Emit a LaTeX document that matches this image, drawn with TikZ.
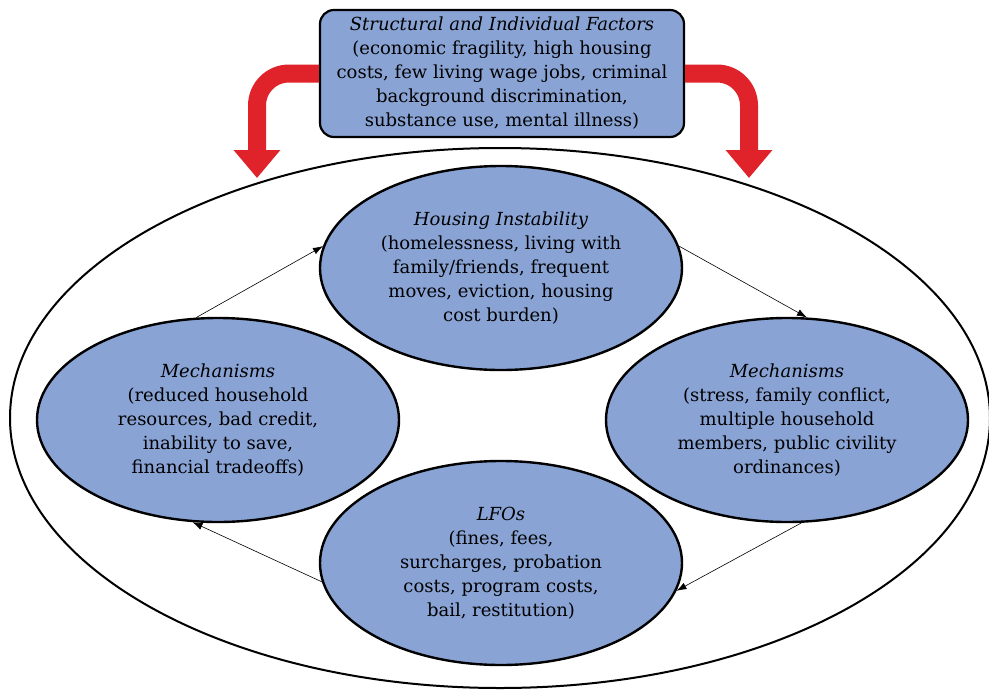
\documentclass[tikz,border=0pt]{standalone}
\usepackage{fontspec}
\setmainfont{DejaVu Serif}
\usepackage{tikz}
\usetikzlibrary{shapes.geometric,arrows.meta}
\definecolor{nodeblue}{RGB}{137,163,213}
\definecolor{arrowred}{RGB}{224,35,42}

\begin{document}
\begin{tikzpicture}[x=1pt,y=-1pt,
    bubble/.style={shape=ellipse, draw=black, line width=2.4pt, fill=nodeblue,
        minimum width=362pt, minimum height=204pt, inner sep=0pt, align=center,
        font=\fontsize{18}{24}\selectfont},
    cycle/.style={-{Latex[length=10pt,width=7pt]}, line width=0.6pt},
    bigarrow/.style={-{Triangle[length=28pt,width=45pt]}, draw=arrowred,
        line width=18pt, rounded corners=32pt}]
    \useasboundingbox (0,0) rectangle (989,689);
    % outer system
    \node[shape=ellipse, draw=black, line width=2pt, minimum width=980pt,
        minimum height=540pt, inner sep=0pt] at (500,418) (SYS) {};
    \coordinate (TL) at (257,178);
    \coordinate (TR) at (749,178);
    \node[shape=rectangle, draw=black, line width=2.2pt, fill=nodeblue,
        rounded corners=14pt, minimum width=364pt, minimum height=127pt,
        inner sep=0pt, align=center, font=\fontsize{18}{24}\selectfont]
        at (502,73.5) (SF) {\textit{Structural and Individual Factors}\\
        (economic fragility, high housing\\ costs, few living wage jobs, criminal\\
        background discrimination,\\ substance use, mental illness)};
    \draw[bigarrow] (SF.west) -| (TL);
    \draw[bigarrow] (SF.east) -| (TR);
    % the cycle
    \node[bubble] at (501,268) (HI) {\textit{Housing Instability}\\
        (homelessness, living with\\ family/friends, frequent\\
        moves, eviction, housing\\ cost burden)};
    \node[bubble] at (787,420) (MR) {\textit{Mechanisms}\\
        (stress, family conflict,\\ multiple household\\
        members, public civility\\ ordinances)};
    \node[bubble] at (501,563) (LF) {\textit{LFOs}\\ (fines, fees,\\
        surcharges, probation\\ costs, program costs,\\ bail, restitution)};
    \node[bubble] at (218,420) (ML) {\textit{Mechanisms}\\
        (reduced household\\ resources, bad credit,\\
        inability to save,\\ financial tradeoffs)};
    \draw[cycle] (ML.102) -- (HI.173);
    \draw[cycle] (HI.7) -- (MR.79);
    \draw[cycle] (MR.278) -- (LF.351);
    \draw[cycle] (LF.186) -- (ML.256);
\end{tikzpicture}
\end{document}
